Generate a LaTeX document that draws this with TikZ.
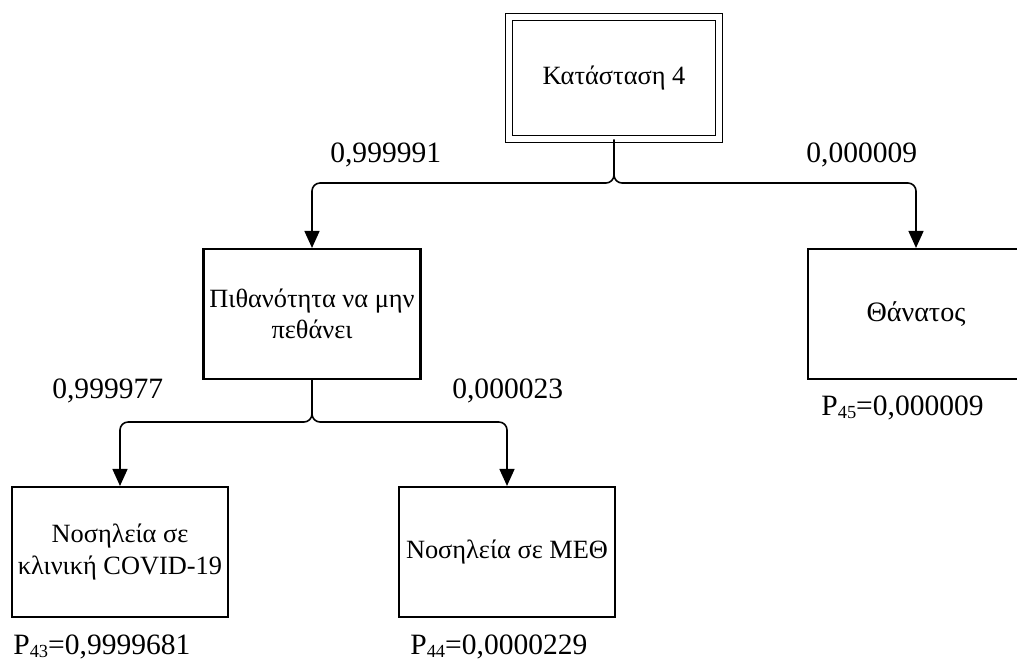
\documentclass[tikz,border=0pt]{standalone}
\usepackage{fontspec}
\setmainfont{Liberation Serif}
\usetikzlibrary{arrows.meta}
\newcommand{\psub}[1]{\raisebox{-0.2ex}{\fontsize{10.5}{12}\selectfont #1}}

\begin{document}
\begin{tikzpicture}[x=0.2mm, y=-0.2mm,
		every node/.style={font=\fontsize{15}{18}\selectfont},
		box/.style={draw=black, line width=1.2pt, minimum width=43.2mm, minimum height=26mm, align=center},
		num/.style={anchor=west, inner sep=0pt, font=\fontsize{16.8}{19}\selectfont},
		link/.style={draw=black, line width=0.9pt, rounded corners=1.6mm, -{Triangle[length=3.4mm, width=3mm]}}]
				\useasboundingbox (0,0) rectangle (1017,663);
				
				\node[box, double, double distance=1.1mm, line width=0.8pt, minimum width=42mm, minimum height=24.4mm] (s4) at (614,78) {Κατάσταση 4};
				\node[box] (alive) at (312,314) {Πιθανότητα να μην\\πεθάνει};
				\node[box, font=\fontsize{16}{19}\selectfont] (death) at (916,314) {Θάνατος};
				\node[box] (ward) at (120,552) {Νοσηλεία σε\\κλινική COVID-19};
				\node[box] (icu) at (507,552) {Νοσηλεία σε ΜΕΘ};
				
				\coordinate (j1) at (614,183);
				\coordinate (j2) at (312,422);
				
				\path[link] (s4.south) -- (s4.south |- j1) -| (alive.north);
				\path[link] (s4.south) -- (s4.south |- j1) -| (death.north);
				\path[link] (alive.south) -- (j2) -| (ward.north);
				\path[link] (alive.south) -- (j2) -| (icu.north);
				
				\node[num] (p1) at (330,155) {0,999991};
				\node[num] (p2) at (806,155) {0,000009};
				\node[num] (p3) at (52,391) {0,999977};
				\node[num] (p4) at (452,391) {0,000023};
				\node[num] (p45) at (821,408) {P\psub{45}=0,000009};
				\node[num] (p43) at (13,647) {P\psub{43}=0,9999681};
				\node[num] (p44) at (410,647) {P\psub{44}=0,0000229};
\end{tikzpicture}
\end{document}
